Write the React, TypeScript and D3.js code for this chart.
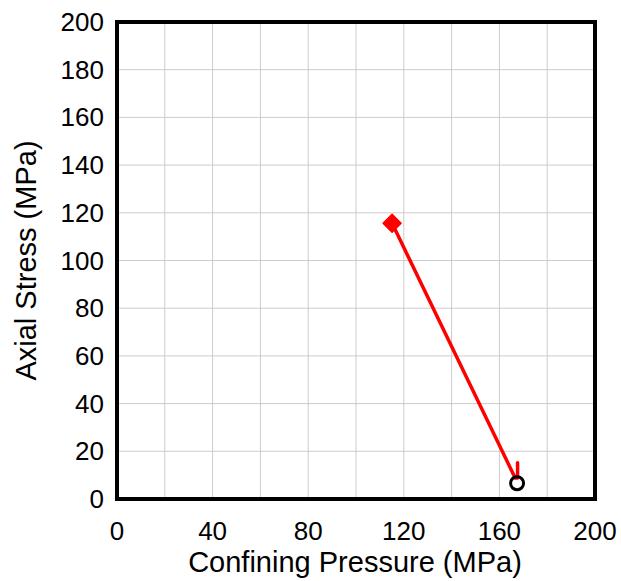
import React from "react";
import * as d3 from "d3";

const xTicks = [0, 40, 80, 120, 160, 200];
const yTicks = [0, 20, 40, 60, 80, 100, 120, 140, 160, 180, 200];
const gridValues = [20, 40, 60, 80, 100, 120, 140, 160, 180];
const pathX = [115.1, 166.6, 167.6, 167.6];
const pathY = [115.6, 8.8, 8.8, 15.2];
const startPoint = [115.1, 115.6];
const endPoint = [167.4, 6.6];

export default function App() {
  const W = 621, H = 581;
  const left = 117, right = 595, top = 22, bottom = 499;
  const x = d3.scaleLinear().domain([0, 200]).range([left, right]);
  const y = d3.scaleLinear().domain([0, 200]).range([bottom, top]);
  const pts = pathX.map((v, i) => [v, pathY[i]] as [number, number]);
  const line = d3.line<[number, number]>().x(d => x(d[0])).y(d => y(d[1]));
  const font = "'Liberation Sans', Arial, Helvetica, sans-serif";
  const sx = x(startPoint[0]), sy = y(startPoint[1]);
  const d = 9;
  return (
    <svg width={W} height={H} style={{ position: "absolute", left: 0, top: 0 }} fontFamily={font}>
      <rect x={0} y={0} width={W} height={H} fill="#fff" />
      {gridValues.map(v => (
        <line key={"gx" + v} x1={x(v)} x2={x(v)} y1={top} y2={bottom} stroke="#cccccc" strokeWidth={1} />
      ))}
      {gridValues.map(v => (
        <line key={"gy" + v} x1={left} x2={right} y1={y(v)} y2={y(v)} stroke="#cccccc" strokeWidth={1} />
      ))}
      <path d={line(pts) || ""} fill="none" stroke="#ff0000" strokeWidth={3.5} strokeLinejoin="round" strokeLinecap="round" />
      <path d={`M${sx},${sy - d}L${sx + d},${sy}L${sx},${sy + d}L${sx - d},${sy}Z`} fill="#ff0000" stroke="#ff0000" strokeWidth={1.5} strokeLinejoin="round" />
      <circle cx={x(endPoint[0])} cy={y(endPoint[1])} r={6.5} fill="none" stroke="#000" strokeWidth={3} />
      <rect x={left} y={top} width={right - left} height={bottom - top} fill="none" stroke="#000" strokeWidth={4} />
      {xTicks.map(v => (
        <text key={"xt" + v} x={x(v)} y={540} textAnchor="middle" fontSize={26} fill="#000">{v}</text>
      ))}
      {yTicks.map(v => (
        <text key={"yt" + v} x={104} y={y(v) + 9} textAnchor="end" fontSize={26} fill="#000">{v}</text>
      ))}
      <text x={355} y={572} textAnchor="middle" fontSize={29} fill="#000">Confining Pressure (MPa)</text>
      <text transform={`translate(36,${(top + bottom) / 2}) rotate(-90)`} textAnchor="middle" fontSize={29} fill="#000">Axial Stress (MPa)</text>
    </svg>
  );
}
